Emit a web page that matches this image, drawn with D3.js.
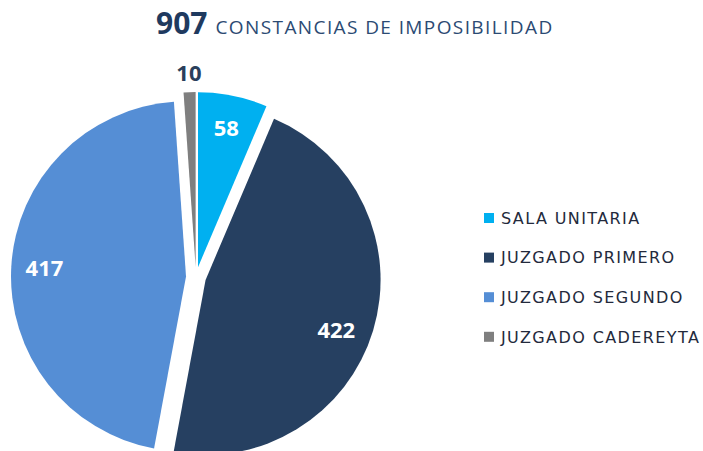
<!DOCTYPE html>
<meta charset="utf-8">
<style>
  body { margin: 0; background: #ffffff; }
  svg { display: block; font-family: "Open Sans", "Noto Sans", sans-serif; }
  .title-num { font-weight: 700; fill: #1f3a5f; }
  .title-txt { fill: #2b4a73; }
  .legend text { fill: #232a3c; font-family: "DejaVu Sans", sans-serif; }
</style>
<body>
<script src="https://d3js.org/d3.v7.min.js"></script>
<script>
// data
var categories = ["SALA UNITARIA", "JUZGADO PRIMERO", "JUZGADO SEGUNDO", "JUZGADO CADEREYTA"];
var values = [58, 422, 417, 10];
var colors = ["#00b0f0", "#264061", "#558ed5", "#7f7f7f"];
var total = 907;
var titleText = "CONSTANCIAS DE IMPOSIBILIDAD";

var width = 703, height = 451;
var cx = 196, cy = 277, radius = 175, explode = 10;

var svg = d3.select("body").append("svg")
    .attr("width", width)
    .attr("height", height);

// title
var title = svg.append("text")
    .attr("x", 156)
    .attr("y", 34);
title.append("tspan").attr("class", "title-num").style("font-size", "30px").text(total);
title.append("tspan").attr("class", "title-txt").attr("dx", 8).style("font-size", "19px")
    .style("letter-spacing", "1.4px").text(titleText);

var pie = d3.pie().sort(null).value(function(d) { return d; });
var arcs = pie(values);

var arc = d3.arc().innerRadius(0).outerRadius(radius);
var labelArc = d3.arc().innerRadius(radius * 0.81).outerRadius(radius * 0.81);
var outArc = d3.arc().innerRadius(radius * 1.11).outerRadius(radius * 1.11);

function shift(d) {
  var a = (d.startAngle + d.endAngle) / 2;
  return [Math.sin(a) * explode, -Math.cos(a) * explode];
}

var g = svg.append("g").attr("transform", "translate(" + cx + "," + cy + ")");

var slices = g.selectAll("g.slice")
    .data(arcs)
    .enter().append("g")
    .attr("class", "slice")
    .attr("transform", function(d) { var s = shift(d); return "translate(" + s[0] + "," + s[1] + ")"; });

slices.append("path")
    .attr("d", arc)
    .attr("fill", function(d, i) { return colors[i]; });

slices.append("text")
    .attr("transform", function(d) {
      var small = (d.endAngle - d.startAngle) < 0.1;
      var p = (small ? outArc : labelArc).centroid(d);
      // Primero label sits a little lower in the original
      if (d.index === 1) p = [p[0] - 5, p[1] + 9];
      return "translate(" + p + ")";
    })
    .attr("text-anchor", "middle")
    .attr("dy", "0.36em")
    .style("font-size", "22px")
    .style("font-weight", 700)
    .attr("fill", function(d) { return (d.endAngle - d.startAngle) < 0.1 ? "#2a3f5c" : "#ffffff"; })
    .text(function(d) { return d.value; });

// legend
var legend = svg.append("g").attr("class", "legend")
    .attr("transform", "translate(484,218)");

var rows = legend.selectAll("g")
    .data(categories)
    .enter().append("g")
    .attr("transform", function(d, i) { return "translate(0," + (i * 39.6) + ")"; });

rows.append("rect")
    .attr("x", 0).attr("y", -5)
    .attr("width", 10).attr("height", 10)
    .attr("fill", function(d, i) { return colors[i]; });

rows.append("text")
    .attr("x", 17)
    .attr("dy", "0.36em")
    .style("font-size", "16px")
    .style("letter-spacing", "1.4px")
    .text(function(d) { return d; });
</script>
</body>
